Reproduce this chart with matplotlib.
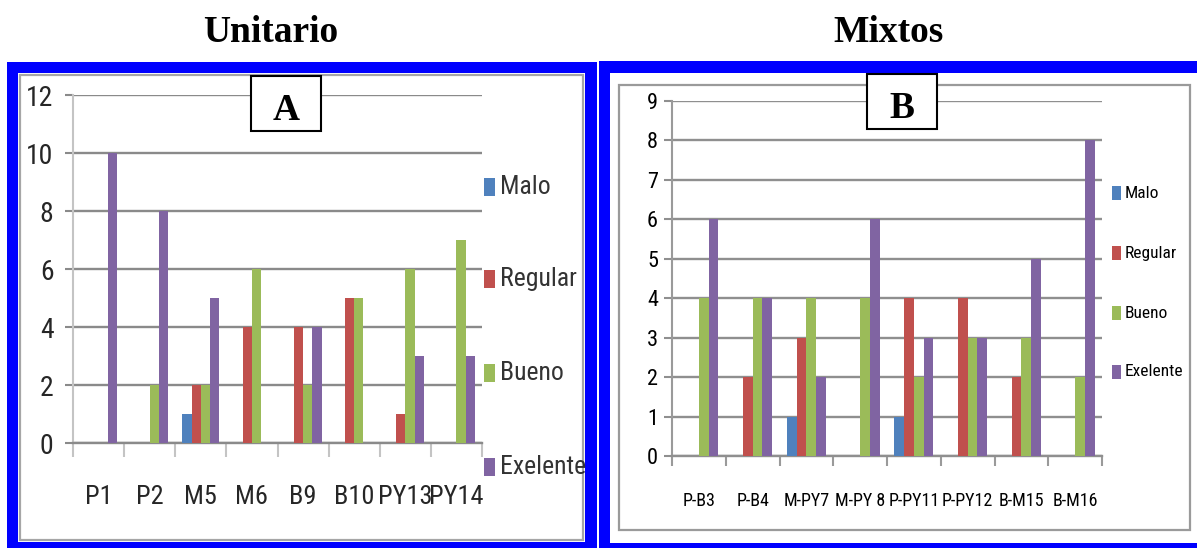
import matplotlib
matplotlib.use("Agg")
import matplotlib.pyplot as plt
from matplotlib import font_manager
from matplotlib.patches import Rectangle
import numpy as np

# ---- data ----
series = ["Malo", "Regular", "Bueno", "Exelente"]
colors = ["#4F81BD", "#C0504D", "#9BBB59", "#8064A2"]

unit_cats = ["P1", "P2", "M5", "M6", "B9", "B10", "PY13", "PY14"]
unit_malo = [0, 0, 1, 0, 0, 0, 0, 0]
unit_regular = [0, 0, 2, 4, 4, 5, 1, 0]
unit_bueno = [0, 2, 2, 6, 2, 5, 6, 7]
unit_exelente = [10, 8, 5, 0, 4, 0, 3, 3]

mix_cats = ["P-B3", "P-B4", "M-PY7", "M-PY 8", "P-PY11", "P-PY12", "B-M15", "B-M16"]
mix_malo = [0, 0, 1, 0, 1, 0, 0, 0]
mix_regular = [0, 2, 3, 0, 4, 4, 2, 0]
mix_bueno = [4, 4, 4, 4, 2, 3, 3, 2]
mix_exelente = [6, 4, 2, 6, 3, 3, 5, 8]

unit_ticks = [0, 2, 4, 6, 8, 10, 12]
mix_ticks = list(range(10))

# ---- pick a condensed sans face if one is installed ----
_fonts = font_manager.fontManager.ttflist
_names = {f.name for f in _fonts}
NARROW_KW = {"family": ["Liberation Sans", "DejaVu Sans"]}
SCALE = 0.78
for fam in ["Roboto Condensed", "Liberation Sans Narrow", "Open Sans Condensed",
            "Noto Sans Condensed"]:
    if fam in _names:
        NARROW_KW = {"family": [fam, "DejaVu Sans"]}
        SCALE = 1.0
        break
else:
    for fam in ["DejaVu Sans", "Noto Sans", "Open Sans", "Roboto"]:
        cond = [f for f in _fonts if f.name == fam and
                str(f.stretch) in ("condensed", "semi-condensed", "extra-condensed")]
        if cond:
            NARROW_KW = {"family": [fam], "stretch": cond[0].stretch}
            SCALE = 0.95
            break

SERIF = ["Liberation Serif", "DejaVu Serif"]

# ---- figure in pixel units ----
W, H = 1197, 548
fig = plt.figure(figsize=(W / 100, H / 100), dpi=100)
fig.patch.set_facecolor("white")


def rect(x0, y0, x1, y1, **kw):
    r = Rectangle((x0 / W, 1 - y1 / H), (x1 - x0) / W, (y1 - y0) / H,
                  transform=fig.transFigure, **kw)
    fig.add_artist(r)
    return r


def axes_px(x0, y0, x1, y1):
    return fig.add_axes([x0 / W, 1 - y1 / H, (x1 - x0) / W, (y1 - y0) / H])


def ftext(x, y, s, **kw):
    fig.text(x / W, 1 - y / H, s, **kw)


# blue panel borders with white interiors
rect(7, 62, 597, 560, facecolor="#0000FF", edgecolor="none", zorder=-10)
rect(18, 73, 585, 542, facecolor="white", edgecolor="none", zorder=-9)
rect(599, 61, 1210, 560, facecolor="#0000FF", edgecolor="none", zorder=-10)
rect(610, 73, 1210, 543, facecolor="white", edgecolor="none", zorder=-9)

# grey chart frames
rect(20, 75, 583, 540, facecolor="none", edgecolor="#A6A6A6", lw=1.6, zorder=-8)
rect(619, 85, 1190, 530, facecolor="none", edgecolor="#9A9A9A", lw=1.6, zorder=-8)

# panel titles
ftext(271, 33, "Unitario", family=SERIF, fontweight="bold", fontsize=27,
      ha="center", va="center")
ftext(888, 33, "Mixtos", family=SERIF, fontweight="bold", fontsize=27,
      ha="center", va="center")


def draw_panel(box, cats, values, ymax, yticks, grid_col, spine_col, tick_col,
               ylab_size, xlab_size, xpad, ypad, text_col, xtick_len):
    ax = axes_px(*box)
    n = len(cats)
    x = np.arange(n)
    w = 1 / 5.5
    for i, (vals, c) in enumerate(zip(values, colors)):
        ax.bar(x + (i - 1.5) * w, vals, width=w, color=c, linewidth=0, zorder=3)
    ax.set_xlim(-0.5, n - 0.5)
    ax.set_ylim(0, ymax)
    ax.set_yticks(yticks)
    ax.set_yticklabels([str(t) for t in yticks])
    ax.yaxis.grid(True, color=grid_col, lw=1.7)
    ax.set_axisbelow(True)
    for s in ("top", "right"):
        ax.spines[s].set_visible(False)
    ax.spines["left"].set_color(spine_col)
    ax.spines["left"].set_linewidth(1.5)
    ax.spines["bottom"].set_color(grid_col)
    ax.spines["bottom"].set_linewidth(1.7)
    ax.tick_params(axis="y", length=6, width=1.5, color=grid_col, pad=ypad,
                   labelcolor=text_col)
    ax.set_xticks(x)
    ax.set_xticklabels(cats)
    ax.set_xticks(np.arange(n + 1) - 0.5, minor=True)
    ax.tick_params(axis="x", which="major", length=0, pad=xpad,
                   labelcolor=text_col)
    ax.tick_params(axis="x", which="minor", length=xtick_len, width=1.5,
                   color=tick_col)
    for lab in ax.get_yticklabels():
        lab.set(fontsize=ylab_size * SCALE, **NARROW_KW)
    for lab in ax.get_xticklabels():
        lab.set(fontsize=xlab_size * SCALE, **NARROW_KW)
    return ax


draw_panel((73, 95, 482, 443), unit_cats,
           [unit_malo, unit_regular, unit_bueno, unit_exelente],
           12, unit_ticks, "#8A8A8A", "#C4C4C4", "#C4C4C4",
           20, 19, 30, 8, "#262626", 10)
draw_panel((672, 101, 1102, 456), mix_cats,
           [mix_malo, mix_regular, mix_bueno, mix_exelente],
           9, mix_ticks, "#8F8F8F", "#9A9A9A", "#9A9A9A",
           16, 13, 26, 4, "black", 7)

# legends
for name, c, yc in zip(series, colors, [187, 279, 373, 467]):
    rect(484, yc - 9, 495, yc + 9, facecolor=c, edgecolor="none", zorder=4)
    ftext(500, yc, name, fontsize=18.5 * SCALE, color="#333333",
          ha="left", va="center", **NARROW_KW)
for name, c, yc in zip(series, colors, [193, 253, 313, 372]):
    rect(1112, yc - 7, 1121, yc + 7, facecolor=c, edgecolor="none", zorder=4)
    ftext(1125, yc, name, fontsize=12.5 * SCALE, color="black",
          ha="left", va="center", **NARROW_KW)

# panel letter boxes
rect(251, 76, 321, 131, facecolor="white", edgecolor="black", lw=1.5, zorder=6)
ftext(286, 110, "A", family=SERIF, fontweight="bold", fontsize=27,
      ha="center", va="center", zorder=7)
rect(867, 74, 937, 129, facecolor="white", edgecolor="black", lw=1.5, zorder=6)
ftext(902, 108, "B", family=SERIF, fontweight="bold", fontsize=27,
      ha="center", va="center", zorder=7)

fig.savefig("out.png", dpi=100)
